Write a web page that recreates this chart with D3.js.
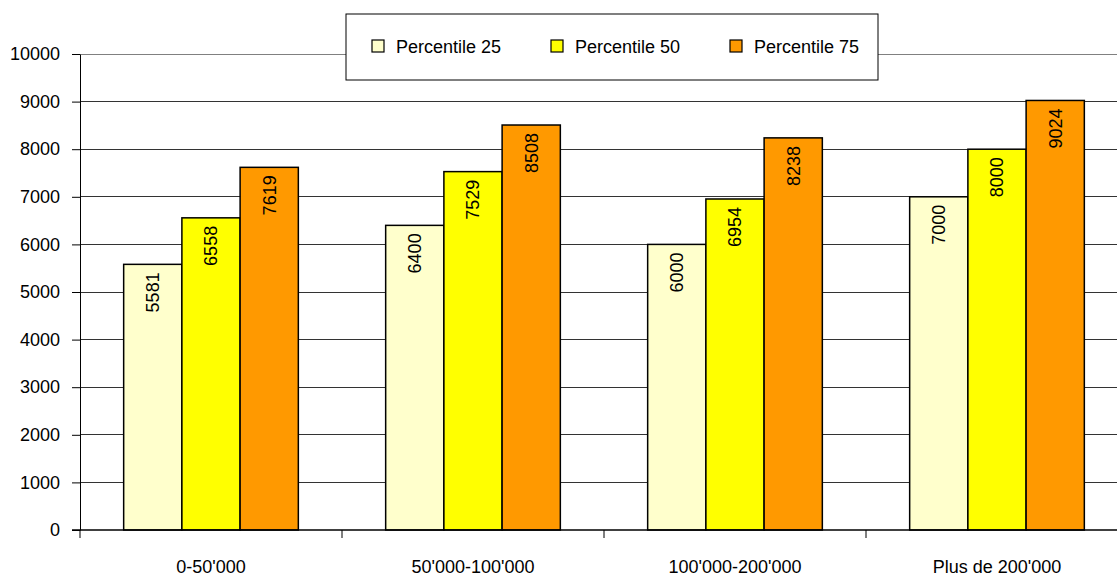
<!DOCTYPE html>
<html><head><meta charset="utf-8">
<script src="https://cdnjs.cloudflare.com/ajax/libs/d3/7.8.5/d3.min.js"></script>
<style>body{margin:0;background:#fff}svg{display:block;font-family:"Liberation Sans",Arial,sans-serif}</style>
</head><body><svg id="c" width="1117" height="577"></svg>
<script>
const categories = ["0-50'000", "50'000-100'000", "100'000-200'000", "Plus de 200'000"];
const seriesNames = ["Percentile 25", "Percentile 50", "Percentile 75"];
const p25 = [5581, 6400, 6000, 7000];
const p50 = [6558, 7529, 6954, 8000];
const p75 = [7619, 8508, 8238, 9024];
const yTicks = [0,1000,2000,3000,4000,5000,6000,7000,8000,9000,10000];
const colors = ["#FFFFCC", "#FFFF00", "#FF9900"];
const series = [p25, p50, p75];

(function(){
const svg = d3.select("#c");
const pl = 80, pr = 1128, pt = 54, pb = 530;
const x = d3.scaleBand().domain(categories).range([pl, pr]).paddingInner(0).paddingOuter(0);
const x1 = d3.scaleBand().domain(seriesNames).range([0, x.bandwidth()]).paddingInner(0).paddingOuter(0.75);
const y = d3.scaleLinear().domain([0, 10000]).range([pb, pt]);

// gridlines
svg.append("g").selectAll("line").data(yTicks.filter(d => d > 0)).join("line")
  .attr("x1", pl).attr("x2", 1117).attr("y1", d => y(d)).attr("y2", d => y(d))
  .attr("stroke", d => d === 10000 ? "#808080" : "#333").attr("stroke-width", 1).attr("shape-rendering","crispEdges");

// y axis
const ya = svg.append("g").attr("transform", `translate(${pl},0)`)
  .call(d3.axisLeft(y).tickValues(yTicks).tickSize(8).tickSizeOuter(0).tickPadding(12).tickFormat(d3.format("d")));
ya.select(".domain").attr("stroke", "#000");
ya.selectAll(".tick line").attr("stroke", "#000");
ya.selectAll("text").attr("font-size", 18).attr("fill", "#000").attr("font-family", "Liberation Sans, Arial, sans-serif");

// bars
const groups = svg.append("g").selectAll("g").data(categories).join("g")
  .attr("transform", d => `translate(${x(d)},0)`);
groups.each(function(cat, ci) {
  const g = d3.select(this);
  seriesNames.forEach((s, si) => {
    const v = series[si][ci];
    g.append("rect").attr("x", x1(s)).attr("y", y(v)).attr("width", x1.bandwidth()).attr("height", y(0) - y(v))
      .attr("fill", colors[si]).attr("stroke", "#000").attr("stroke-width", 1.5);
    const cx = x1(s) + x1.bandwidth() / 2, cy = y(v) + 8;
    g.append("text").attr("transform", `translate(${cx},${cy}) rotate(-90)`)
      .attr("text-anchor", "end").attr("dy", "0.35em").attr("font-size", 18).attr("fill", "#000").text(v);
  });
});

// x axis
const xa = svg.append("g").attr("transform", `translate(0,${pb})`);
xa.append("line").attr("x1", pl - 8).attr("x2", 1117).attr("y1", 0).attr("y2", 0).attr("stroke", "#000").attr("stroke-width", 1.5);
xa.selectAll(".tk").data(categories).join("line").attr("class","tk")
  .attr("x1", d => x(d)).attr("x2", d => x(d)).attr("y1", 0).attr("y2", 8).attr("stroke", "#000");
xa.selectAll(".lb").data(categories).join("text").attr("class","lb")
  .attr("x", d => x(d) + x.bandwidth() / 2).attr("y", 43).attr("text-anchor", "middle")
  .attr("font-size", 18).attr("fill", "#000").text(d => d);

// legend
const lg = svg.append("g");
lg.append("rect").attr("x", 346).attr("y", 14).attr("width", 532).attr("height", 66)
  .attr("fill", "#fff").attr("stroke", "#000").attr("stroke-width", 1);
const lx = [372, 551, 730];
seriesNames.forEach((s, i) => {
  lg.append("rect").attr("x", lx[i]).attr("y", 40).attr("width", 12).attr("height", 12)
    .attr("fill", colors[i]).attr("stroke", "#000").attr("stroke-width", 1.2);
  lg.append("text").attr("x", lx[i] + 24).attr("y", 53).attr("font-size", 18).attr("fill", "#000").text(s);
});
})();
</script></body></html>
